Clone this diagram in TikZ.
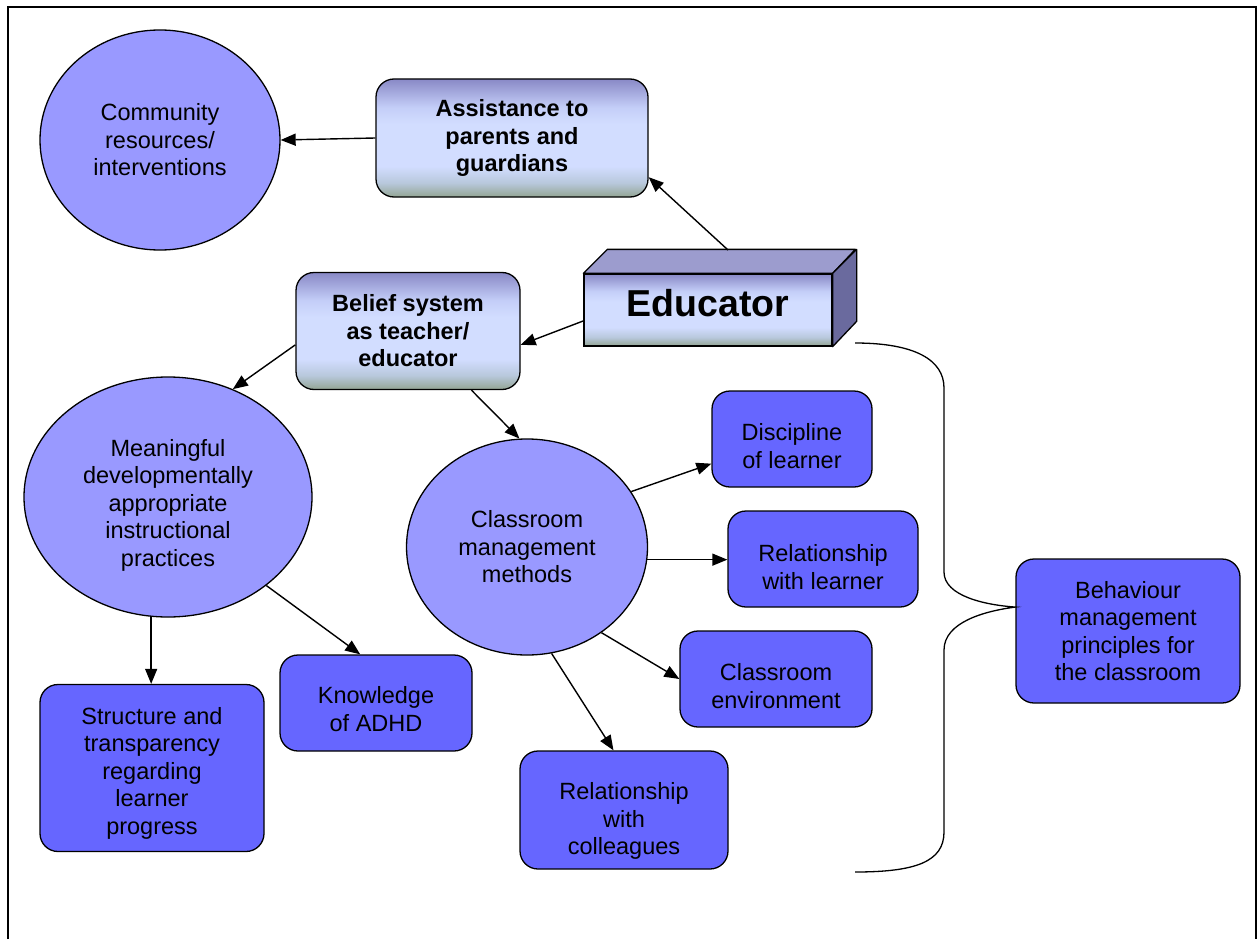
\documentclass[tikz,border=0pt]{standalone}
\usepackage{fontspec}
\setmainfont{Liberation Sans}
\usetikzlibrary{shapes.geometric,arrows.meta}

\definecolor{bubblefill}{HTML}{9999FF}
\definecolor{boxfill}{HTML}{6666FF}
\definecolor{shadetop}{HTML}{8989C6}
\definecolor{shademid}{HTML}{C4CEF8}
\definecolor{shadelight}{HTML}{D2DDFF}
\definecolor{shadelow}{HTML}{B8C8DC}
\definecolor{shadebot}{HTML}{93A593}
\definecolor{lidfill}{HTML}{9C9CCE}
\definecolor{sidefill}{HTML}{6A6A9E}

\pgfdeclareverticalshading{boxshade}{100bp}{color(0bp)=(shadebot); color(25bp)=(shadebot);
  color(31bp)=(shadelow); color(38bp)=(shadelight); color(56bp)=(shadelight);
  color(63bp)=(shademid); color(75bp)=(shadetop); color(100bp)=(shadetop)}

\newcommand{\diagfont}{\fontsize{23.5}{27.5}\selectfont}
\newcommand{\textdrop}[1]{\rule{0pt}{#1}}

\tikzset{
  bubble/.style={ellipse, draw, fill=bubblefill, line width=1.3pt, inner sep=0pt,
    align=center, font=\diagfont},
  plainbox/.style={rectangle, rounded corners=18pt, draw, fill=boxfill, line width=1.3pt,
    inner sep=0pt, align=center, font=\diagfont},
  shadebox/.style={rectangle, rounded corners=18pt, draw, shade, shading=boxshade,
    line width=1.3pt, inner sep=0pt, align=center, font=\diagfont\bfseries},
  link/.style={-{Triangle[length=15pt,width=12pt]}, line width=1.4pt}
}

\begin{document}
\begin{tikzpicture}[x=1pt, y=-1pt]
    % \draw[help lines, step=100] (0,0) grid (1260,939);
    \useasboundingbox (0,0) rectangle (1260,939);
    \draw[line width=2pt] (8,939) -- (8,7) -- (1256,7) -- (1256,939);

    % educator block
    \node[rectangle, draw, shade, shading=boxshade, line width=1.3pt,
          minimum width=248, minimum height=72, inner sep=0pt,
          font=\fontsize{37.5}{40}\selectfont\bfseries] (edu) at (708,310)
        {\rule[-14pt]{0pt}{14pt}Educator};
    \draw[fill=lidfill, line width=1.3pt, line join=round]
        (edu.north west) -- ++(24,-24) -- ++(248,0) -- (edu.north east) -- cycle;
    \draw[fill=sidefill, line width=1.3pt, line join=round]
        (edu.north east) -- ++(24,-24) -- ++(0,72) -- (edu.south east) -- cycle;
    \coordinate (edutop) at (728,250);

    \node[bubble, minimum width=240, minimum height=220] (comm) at (160,140)
        {Community\\resources/\\interventions};
    \node[shadebox, minimum width=272, minimum height=118] (assist) at (512,138)
        {Assistance to\\parents and\\guardians};
    \node[shadebox, minimum width=224, minimum height=117] (belief) at (408,331)
        {Belief system\\as teacher/\\educator};

    \node[bubble, minimum width=288, minimum height=240] (mean) at (168,497)
        {\textdrop{33pt}Meaningful\\developmentally\\appropriate\\instructional\\practices};
    \node[bubble, minimum width=241, minimum height=216] (cls) at (527,547)
        {Classroom\\management\\methods};

    \node[plainbox, minimum width=160, minimum height=96] (disc) at (792,439)
        {\textdrop{31pt}Discipline\\of learner};
    \node[plainbox, minimum width=190, minimum height=96] (rell) at (823,559)
        {\textdrop{33pt}Relationship\\with learner};
    \node[plainbox, minimum width=192, minimum height=96] (env) at (776,679)
        {\textdrop{31pt}Classroom\\environment};
    \node[plainbox, minimum width=208, minimum height=118] (coll) at (624,810)
        {\textdrop{39pt}Relationship\\with\\colleagues};
    \node[plainbox, minimum width=192, minimum height=96] (know) at (376,703)
        {\textdrop{29pt}Knowledge\\of ADHD};
    \node[plainbox, minimum width=224, minimum height=167] (struct) at (152,768)
        {\textdrop{27pt}Structure and\\transparency\\regarding\\learner\\progress};
    \node[plainbox, minimum width=224, minimum height=144] (behav) at (1128,631)
        {Behaviour\\management\\principles for\\the classroom};

    \draw[link] (assist.west) -- (comm.east);
    \draw[link] (edutop) -- (assist.-16);
    \draw[link] (edu.185) -- (belief.-7);
    \draw[link] (belief.187) -- (mean.59);
    \draw[link] (belief.-43) -- (cls.94);
    \draw[link] (mean.-98) -- (mean.-98 |- struct.north);
    \draw[link] (mean.-42) -- (know.108);
    \draw[link] (cls.28) -- (disc.197);
    \draw[link] (cls.-6) -- (cls.-6 -| rell.west);
    \draw[link] (cls.-49) -- (env.west);
    \draw[link] (cls.-77) -- (coll.100);

    % brace towards the principles
    \coordinate (bracetop) at (855,343);
    \coordinate (bracebot) at (855,872);
    \draw[line width=1.3pt]
        (bracetop) .. controls (915,343) and (944,360) .. (944,388)
        -- (944,572) .. controls (944,596) and (985,605) .. (behav.168)
        .. controls (985,611) and (944,622) .. (944,650)
        -- (944,832) .. controls (944,862) and (915,872) .. (bracebot);
\end{tikzpicture}
\end{document}
